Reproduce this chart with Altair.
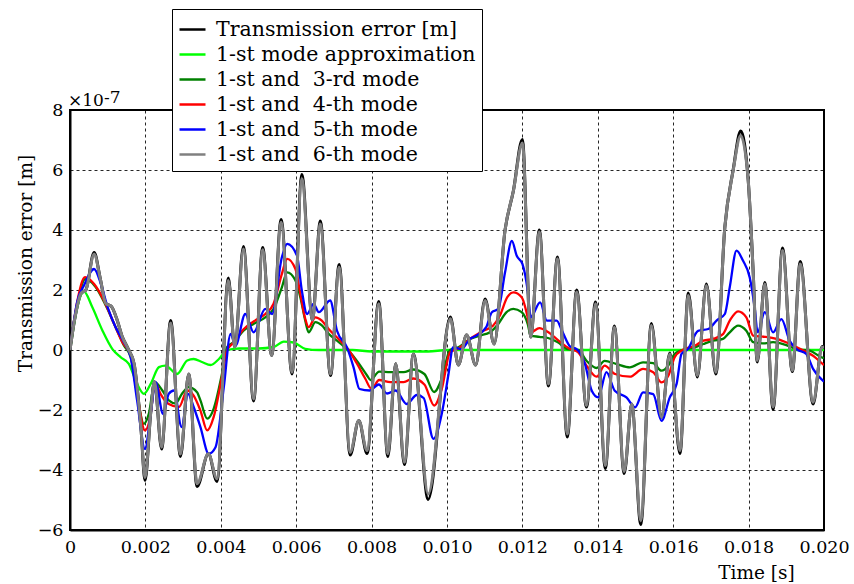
import altair as alt
import pandas as pd

# ---- series (time in ms, values in units of 1e-7 m) ----
names = ["Transmission error [m]", "1-st mode approximation", "1-st and\u00a0 3-rd mode",
         "1-st and\u00a0 4-th mode", "1-st and\u00a0 5-th mode", "1-st and\u00a0 6-th mode"]
colors = ["#000000", "#00ff00", "#008000", "#ff0000", "#0000ff", "#808080"]

t_gray = [0, 0.12, 0.3, 0.42, 0.64, 0.8, 0.95, 1.1, 1.25, 1.39, 1.53, 1.7, 1.88, 1.99,
          2.14, 2.24, 2.43, 2.67, 2.93, 3.15, 3.37, 3.67, 3.9, 4.2, 4.37, 4.6, 4.87, 5.11,
          5.35, 5.6, 5.89, 6.15, 6.43, 6.64, 6.91, 7.14, 7.43, 7.66, 7.88, 8.19, 8.43, 8.64,
          8.87, 9.11, 9.5, 10.09, 10.3, 10.52, 10.76, 11.01, 11.25, 11.54, 11.76, 12.0,
          12.22, 12.45, 12.69, 12.93, 13.19, 13.44, 13.7, 13.94, 14.2, 14.44, 14.7, 14.9,
          15.14, 15.42, 15.69, 15.91, 16.18, 16.4, 16.64, 16.88, 17.13, 17.37, 17.59, 17.79,
          17.99, 18.12, 18.23, 18.43, 18.65, 18.9, 19.16, 19.37, 19.71, 19.95, 20.0]
v_gray = [0, 1.0, 1.9, 2.0, 3.2, 2.4, 1.55, 1.45, 1.0, 0.43, 0.07, -0.46, -2.57, -4.25,
          -2.1, -1.05, -3.24, 0.9, -3.47, -0.8, -4.46, -3.46, -4.29, 2.32, 0.09, 3.37, -1.63, 3.34,
          -0.18, 4.26, -0.74, 5.71, 1.0, 4.2, -0.8, 2.76, -3.41, -2.35, -3.35, 1.54, -3.46, -0.46,
          -3.74, -0.13, -4.8, 1.04, -0.5, 0.5, -0.5, 1.65, 0.2, 4.0, 5.3, 6.9,
          0.43, 3.93, -1.13, 3.04, -2.8, 1.93, -1.85, 1.54, -3.85, 0.76, -4.05, -1.8,
          -5.68, 0.82, -2.24, -0.13, -3.35, 1.82, -0.85, 2.15, -0.74, 4.1, 5.98, 7.15,
          5.65, 2.65, -0.35, 2.2, -1.9, 3.32, -0.68, 2.87, -1.74, 0.09, 0.1]
v_black = [0, 1.0, 1.9, 2.0, 3.25, 2.4, 1.55, 1.45, 1.0, 0.43, 0.07, -0.46, -2.57, -4.35,
           -2.1, -1.05, -3.3, 0.98, -3.55, -0.8, -4.55, -3.46, -4.38, 2.4, 0.09, 3.45, -1.7, 3.42,
           -0.18, 4.35, -0.8, 5.85, 1.0, 4.3, -0.85, 2.85, -3.5, -2.35, -3.45, 1.62, -3.55, -0.46,
           -3.82, -0.13, -4.98, 1.1, -0.5, 0.5, -0.5, 1.7, 0.2, 4.0, 5.3, 7.02,
           0.43, 4.0, -1.2, 3.1, -2.9, 2.0, -1.9, 1.6, -3.95, 0.8, -4.12, -1.8,
           -5.82, 0.88, -2.24, -0.1, -3.45, 1.9, -0.9, 2.2, -0.8, 4.1, 6.0, 7.3,
           5.65, 2.65, -0.4, 2.25, -1.98, 3.4, -0.72, 2.95, -1.8, 0.12, 0.12]

t_lime = [0, 0.19, 0.37, 0.59, 0.86, 1.12, 1.34, 1.56, 1.78, 1.96, 2.14, 2.36, 2.53, 2.84,
          3.11, 3.28, 3.5, 3.73, 3.95, 4.17, 4.5, 5.0, 5.4, 5.67, 5.93, 6.24, 6.6, 7.5, 8.0,
          9.5, 10.0, 20.0]
v_lime = [0, 1.42, 1.95, 1.43, 0.65, 0.04, -0.24, -0.46, -1.13, -1.46, -1.13, -0.57, -0.52, -0.8,
          -0.35, -0.3, -0.4, -0.5, -0.3, 0.0, 0.05, 0.05, 0.1, 0.28, 0.25, 0.04, 0.0, 0.0, -0.05,
          -0.05, 0.0, 0.0]

t_green = [0, 0.19, 0.41, 0.68, 0.95, 1.21, 1.43, 1.61, 1.78, 1.96, 2.09, 2.25, 2.45, 2.62,
           2.8, 2.97, 3.15, 3.37, 3.46, 3.64, 3.81, 4.03, 4.17, 4.34, 4.61, 4.87, 5.18, 5.4,
           5.62, 5.76, 5.98, 6.11, 6.24, 6.33, 6.51, 6.68, 6.86, 7.13, 7.39, 7.66, 7.88, 7.97,
           8.2, 8.5, 8.85, 9.1, 9.4, 9.66, 9.86, 10.08, 10.3, 10.61, 10.87, 11.14, 11.36,
           11.58, 11.76, 11.98, 12.14, 12.22, 12.45, 12.68, 12.94, 13.2, 13.48, 13.7, 13.97,
           14.18, 14.5, 14.85, 15.2, 15.47, 15.69, 15.87, 16.04, 16.25, 16.57, 16.8, 17.06,
           17.32, 17.5, 17.72, 17.94, 18.12, 18.38, 18.65, 18.96, 19.27, 19.62, 19.93, 20.0]
v_green = [0, 1.5, 2.37, 2.1, 1.48, 0.76, 0.15, -0.24, -1.46, -2.46, -2.13, -1.07, -1.35, -1.68,
           -1.78, -1.46, -1.24, -1.41, -1.68, -2.29, -1.96, -0.8, 0.1, 0.26, 0.65, 0.87, 1.09, 1.37,
           2.09, 2.59, 2.32, 1.76, 0.98, 0.59, 0.93, 0.82, 0.54, 0.26, -0.02, -0.45, -0.85, -1.0,
           -0.72, -0.74, -0.74, -0.65, -0.8, -1.4, -0.95, 0.0, 0.09, 0.37, 0.48, 0.59, 0.87,
           1.26, 1.37, 1.26, 0.87, 0.48, 0.44, 0.4, 0.26, 0.03, 0.0, -0.36, -0.6,
           -0.36, -0.47, -0.58, -0.41, -0.44, -0.69, -0.52, -0.13, 0.0, 0.09, 0.2, 0.31,
           0.37, 0.59, 0.81, 0.64, 0.26, 0.22, 0.26, 0.18, 0.03, -0.02, -0.24, -0.27]

t_red = [0, 0.19, 0.4, 0.64, 0.9, 1.17, 1.39, 1.61, 1.78, 1.99, 2.14, 2.25, 2.4, 2.62, 2.89,
         3.11, 3.28, 3.46, 3.64, 3.81, 4.03, 4.17, 4.3, 4.61, 4.87, 5.18, 5.4, 5.62, 5.76,
         5.98, 6.11, 6.24, 6.33, 6.51, 6.68, 6.86, 7.13, 7.39, 7.61, 7.83, 8.0, 8.2, 8.5,
         8.85, 9.1, 9.4, 9.66, 9.86, 10.08, 10.3, 10.61, 10.96, 11.22, 11.4, 11.6, 11.76,
         11.98, 12.14, 12.22, 12.45, 12.69, 12.96, 13.27, 13.48, 13.7, 13.97, 14.18, 14.46,
         14.85, 15.2, 15.47, 15.69, 15.87, 16.04, 16.25, 16.57, 16.8, 17.06, 17.32, 17.5,
         17.72, 17.94, 18.12, 18.43, 18.74, 19.1, 19.45, 19.71, 19.97, 20.0]
v_red = [0, 1.6, 2.43, 2.2, 1.65, 0.87, 0.26, -0.18, -1.46, -2.68, -2.13, -1.07, -1.46, -1.8, -1.9,
         -1.35, -1.52, -2.02, -2.68, -2.24, -0.9, 0.0, 0.2, 0.7, 0.95, 1.2, 1.54, 2.54, 3.04,
         2.7, 1.87, 1.04, 0.76, 1.09, 0.98, 0.7, 0.36, 0.0, -0.45, -0.95, -1.3, -1.0, -1.07,
         -1.07, -0.95, -1.15, -1.85, -1.3, -0.08, 0.05, 0.37, 0.64, 0.81, 1.14, 1.76, 1.92,
         1.76, 1.09, 0.59, 0.73, 0.59, 0.31, 0.03, -0.08, -0.52, -0.89, -0.52, -0.8,
         -0.89, -0.63, -0.74, -1.08, -0.86, -0.24, 0.0, 0.14, 0.31, 0.37, 0.53, 0.98,
         1.29, 1.09, 0.48, 0.44, 0.37, 0.2, -0.02, -0.19, -0.47, -0.5]

t_blue = [0, 0.19, 0.37, 0.64, 0.82, 1.0, 1.21, 1.43, 1.61, 1.78, 1.99, 2.14, 2.27, 2.47, 2.62,
          2.76, 2.96, 3.13, 3.28, 3.46, 3.68, 3.86, 4.08, 4.26, 4.39, 4.65, 4.87, 5.18, 5.36,
          5.62, 5.76, 6.02, 6.15, 6.29, 6.46, 6.6, 6.9, 7.08, 7.35, 7.52, 7.68, 7.95, 8.19,
          8.41, 8.64, 8.93, 9.2, 9.38, 9.64, 9.86, 10.04, 10.16, 10.38, 10.61, 10.78, 11.04,
          11.19, 11.36, 11.54, 11.72, 11.85, 12.0, 12.14, 12.22, 12.47, 12.65, 12.91, 13.05,
          13.27, 13.44, 13.66, 13.84, 14.01, 14.23, 14.45, 14.76, 14.99, 15.2, 15.47, 15.69,
          15.91, 16.09, 16.22, 16.39, 16.66, 16.93, 17.15, 17.37, 17.5, 17.68, 17.85, 18.03,
          18.16, 18.24, 18.43, 18.65, 18.87, 19.09, 19.27, 19.53, 19.71, 19.97, 20.0]
v_blue = [0, 1.6, 2.15, 2.7, 2.2, 1.42, 0.76, 0.26, -0.24, -1.68, -3.3, -2.13, -1.07, -2.13, -1.46,
          -1.35, -2.57, -1.46, -1.9, -2.57, -3.46, -3.24, -1.24, 0.54, 0.15, 1.2, 0.59, 1.37, 1.2,
          3.09, 3.54, 3.15, 1.98, 1.2, 1.54, 1.26, 1.65, 0.65, 0.08, -0.57, -1.3, -1.35, -1.15,
          -1.45, -1.35, -1.8, -1.5, -1.6, -2.96, -2.13, -0.8, 0.09, 0.03, 0.37, 0.48, 0.76,
          1.26, 1.37, 2.59, 3.64, 3.14, 2.87, 1.98, 1.09, 1.59, 0.98, 0.98, 0.64,
          0.11, 0.03, -0.47, -1.36, -1.58, -0.74, -1.36, -1.58, -1.91, -1.41, -1.47, -2.36,
          -1.58, -1.13, -0.13, 0.03, 0.64, 0.7, 0.98, 1.2, 2.09, 3.31, 2.98, 2.42,
          1.42, 0.59, 1.26, 0.59, 1.03, 0.31, 0.03, -0.13, -0.63, -1.02, -1.05]

x_ticks = [0, 2, 4, 6, 8, 10, 12, 14, 16, 18, 20]
y_ticks = [-6, -4, -2, 0, 2, 4, 6, 8]
exp_base = ["×10"]
exp_power = ["-7"]

series = [
    (names[0], t_gray, v_black, 3.0),
    (names[1], t_lime, v_lime, 2.3),
    (names[2], t_green, v_green, 2.3),
    (names[3], t_red, v_red, 2.3),
    (names[4], t_blue, v_blue, 2.3),
    (names[5], t_gray, v_gray, 3.0),
]

rows = []
for name, ts, vs, _ in series:
    for t, v in zip(ts, vs):
        rows.append({"s": name, "t": t, "v": v})
df = pd.DataFrame(rows)

FONT = "DejaVu Serif"

x_enc = alt.X("t:Q", scale=alt.Scale(domain=[0, 20], nice=False, zero=False),
              axis=alt.Axis(values=x_ticks, grid=True, title="Time [s]", labelOverlap=False,
                            labelFlush=False,
                            labelExpr="datum.value == 0 ? '0' : format(datum.value / 1000, '.3f')",
                            titleX=686, titleY=42, titleAlign="center", titleBaseline="middle",
                            labelPadding=8))
y_enc = alt.Y("v:Q", scale=alt.Scale(domain=[-6, 8], nice=False, zero=False),
              axis=alt.Axis(values=y_ticks, grid=True, title="Transmission error [m]",
                            labelOverlap=False, labelFlush=False,
                            titleX=-45, titleY=153, titleAlign="center", titleBaseline="middle",
                            titleAngle=270, labelPadding=7))
color_enc = alt.Color("s:N", scale=alt.Scale(domain=names, range=colors),
                      legend=alt.Legend(orient="none", legendX=102, legendY=-101, title=None,
                                        symbolType="stroke", symbolSize=676, symbolStrokeWidth=2.5,
                                        labelFont=FONT, labelFontSize=20.5, labelColor="black",
                                        fillColor="white", strokeColor="black", padding=6,
                                        rowPadding=0, labelOffset=9, labelLimit=400))

base = alt.Chart(df)
layers = []
for name, ts, vs, w in series:
    layers.append(
        base.transform_filter(alt.datum.s == name)
        .mark_line(strokeWidth=w, interpolate="monotone", clip=True)
        .encode(x=x_enc, y=y_enc, color=color_enc)
    )

t1 = alt.Chart(pd.DataFrame({"txt": exp_base})).mark_text(
    font=FONT, fontSize=17, align="left", baseline="alphabetic", color="black"
).encode(text="txt:N", x=alt.value(-2), y=alt.value(-4))
t2 = alt.Chart(pd.DataFrame({"txt": exp_power})).mark_text(
    font=FONT, fontSize=17, align="left", baseline="alphabetic", color="black"
).encode(text="txt:N", x=alt.value(34), y=alt.value(-7))

chart = alt.layer(*layers, t1, t2).properties(
    width=754, height=420,
    autosize=alt.AutoSizeParams(type="none"),
    padding={"left": 70, "top": 110, "right": 30, "bottom": 54},
    background="white",
).configure_view(
    stroke="black", strokeWidth=2
).configure_axis(
    labelFont=FONT, labelFontSize=17.5, labelColor="black",
    titleFont=FONT, titleFontSize=18.5, titleColor="black", titleFontWeight="normal",
    domain=True, domainColor="black", domainWidth=2,
    ticks=False, gridColor="black", gridDash=[3, 3], gridWidth=1, gridOpacity=0.85,
)

chart.save("out.html", embed_options={"renderer": "svg", "actions": False})
